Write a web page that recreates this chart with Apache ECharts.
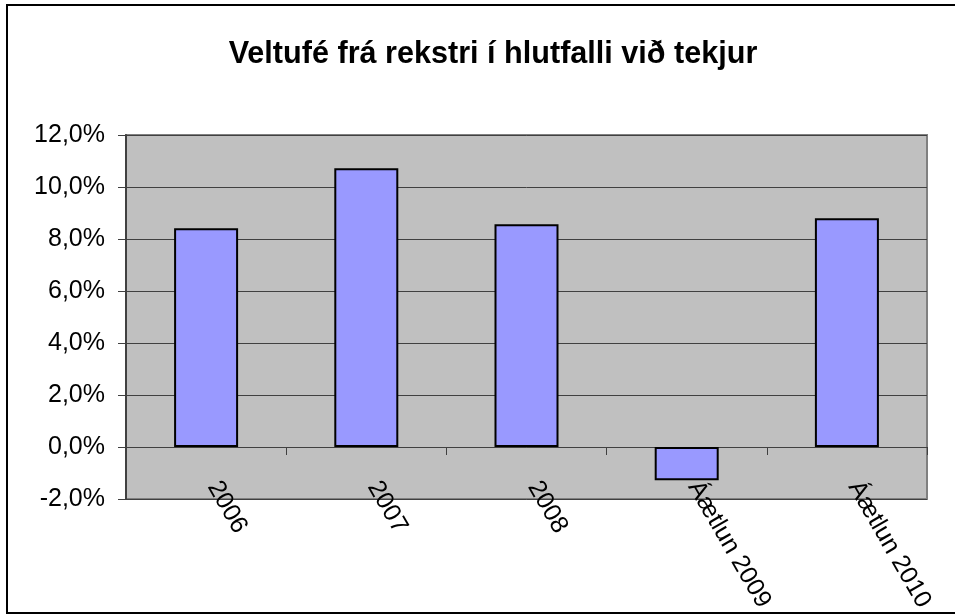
<!DOCTYPE html>
<html>
<head>
<meta charset="utf-8">
<script src="https://cdn.jsdelivr.net/npm/echarts@6/dist/echarts.min.js"></script>
<style>
html,body{margin:0;padding:0;background:#fff;}
#chart{width:955px;height:616px;}
</style>
</head>
<body>
<div id="chart"></div>
<script>
var titleText = 'Veltufé frá rekstri í hlutfalli við tekjur';
var categories = ['2006', '2007', '2008', 'Áætlun 2009', 'Áætlun 2010'];
var values = [8.41, 10.72, 8.57, -1.28, 8.80];
var yMin = -2, yMax = 12, yStep = 2;

var chart = echarts.init(document.getElementById('chart'), null, {renderer: 'canvas'});
var font = '"Liberation Sans", Arial, sans-serif';
chart.setOption({
  animation: false,
  backgroundColor: '#ffffff',
  title: {
    text: titleText,
    left: 488, top: 34, textAlign: 'center',
    textStyle: {fontFamily: font, fontSize: 30.6, fontWeight: 'bold', color: '#000'}
  },
  graphic: [{
    type: 'rect', silent: true, z: 100,
    shape: {x: 7, y: 5, width: 1000, height: 608},
    style: {fill: 'none', stroke: '#000', lineWidth: 2}
  }],
  grid: {
    left: 126, top: 135, width: 801, height: 364,
    show: true, backgroundColor: '#C0C0C0', borderColor: '#808080', borderWidth: 2,
    containLabel: false, outerBoundsMode: 'none'
  },
  xAxis: {
    type: 'category', data: categories,
    axisLine: {onZero: true, lineStyle: {color: '#404040', width: 1}},
    axisTick: {show: true, length: 8, inside: false, lineStyle: {color: '#404040'}},
    axisLabel: {rotate: -60, margin: -28, padding: [0, 0, 0, 14], interval: 0,
      fontFamily: font, fontSize: 25, color: '#000'},
    splitLine: {show: false}
  },
  yAxis: {
    type: 'value', min: yMin, max: yMax, interval: yStep,
    axisLine: {show: true, lineStyle: {color: '#404040', width: 2}},
    axisTick: {show: true, length: 8, lineStyle: {color: '#404040'}},
    axisLabel: {margin: 21, fontFamily: font, fontSize: 25, color: '#000',
      formatter: function (v) { return v.toFixed(1).replace('.', ',') + '%'; }},
    splitLine: {show: true, lineStyle: {color: '#404040', width: 1}}
  },
  series: [{
    type: 'bar', data: values, barWidth: 64,
    itemStyle: {color: '#9999FF', borderColor: '#000', borderWidth: 2}
  }]
});
</script>
</body>
</html>
